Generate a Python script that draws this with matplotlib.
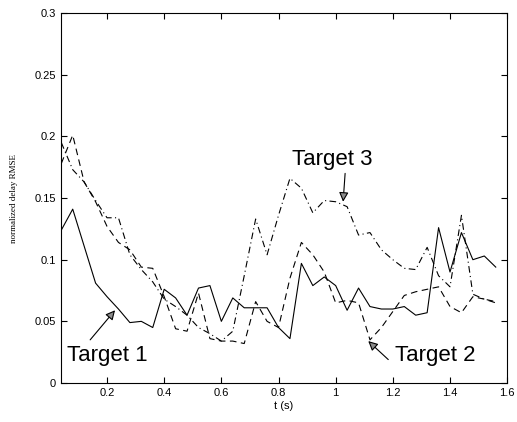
import numpy as np
import matplotlib
matplotlib.use("Agg")
import matplotlib.pyplot as plt

# sample times (s)
t = np.round(np.arange(0.04, 1.561, 0.04), 2)

# Target 1 (solid)
target1 = [0.124, 0.141, 0.111, 0.081, 0.070, 0.060, 0.049, 0.050, 0.045, 0.076,
           0.069, 0.055, 0.077, 0.079, 0.050, 0.069, 0.061, 0.061, 0.061, 0.045,
           0.036, 0.097, 0.079, 0.086, 0.079, 0.059, 0.077, 0.062, 0.060, 0.060,
           0.062, 0.055, 0.057, 0.126, 0.090, 0.122, 0.100, 0.103, 0.094]

# Target 2 (dashed)
target2 = [0.178, 0.201, 0.163, 0.147, 0.127, 0.114, 0.108, 0.094, 0.093, 0.070,
           0.044, 0.042, 0.073, 0.036, 0.034, 0.034, 0.032, 0.066, 0.050, 0.045,
           0.085, 0.114, 0.104, 0.090, 0.065, 0.067, 0.065, 0.035, 0.045, 0.058,
           0.071, 0.074, 0.076, 0.078, 0.062, 0.057, 0.070, 0.068, 0.065]

# Target 3 (dash-dot)
target3 = [0.195, 0.173, 0.163, 0.148, 0.134, 0.134, 0.104, 0.092, 0.082, 0.068,
           0.062, 0.055, 0.045, 0.040, 0.034, 0.042, 0.087, 0.133, 0.104, 0.136,
           0.166, 0.158, 0.138, 0.148, 0.147, 0.143, 0.120, 0.122, 0.108, 0.100,
           0.093, 0.092, 0.110, 0.087, 0.078, 0.136, 0.072, 0.068, 0.066]

fig = plt.figure(figsize=(5.17, 4.22), dpi=100)
ax = fig.add_axes([0.118, 0.0924, 0.863, 0.8766])

ax.plot(t, target1, color='k', lw=0.8, ls='-')
ax.plot(t, target2, color='k', lw=0.8, ls=(0, (6, 4)))
ax.plot(t, target3, color='k', lw=0.8, ls=(0, (6, 3, 1, 3)))

ax.set_xlim(0.039, 1.6)
ax.set_ylim(0, 0.3)
ax.set_xticks([0.2, 0.4, 0.6, 0.8, 1.0, 1.2, 1.4, 1.6])
ax.set_xticklabels(['0.2', '0.4', '0.6', '0.8', '1', '1.2', '1.4', '1.6'])
ax.set_yticks([0, 0.05, 0.1, 0.15, 0.2, 0.25, 0.3])
ax.set_yticklabels(['0', '0.05', '0.1', '0.15', '0.2', '0.25', '0.3'])
ax.tick_params(direction='in', top=True, right=True, length=4, width=0.8,
               labelsize=8)
for lab in ax.get_xticklabels() + ax.get_yticklabels():
    lab.set_family('Liberation Sans')
for s in ax.spines.values():
    s.set_linewidth(0.8)

ax.set_xlabel('t (s)', fontsize=8, family='Liberation Sans', labelpad=2)
ax.set_ylabel('normalized delay RMSE', fontsize=6.5, family='Liberation Serif',
              labelpad=12)

arrow = dict(arrowstyle='-|>', fc='0.55', ec='k', lw=0.8, mutation_scale=14,
             shrinkA=0, shrinkB=0)
txt = dict(fontsize=16, family='Liberation Sans')

ax.text(0.2, 0.031, 'Target 1', ha='center', va='top', **txt)
ax.annotate('', xy=(0.228, 0.059), xytext=(0.141, 0.035), arrowprops=arrow)

ax.text(1.348, 0.031, 'Target 2', ha='center', va='top', **txt)
ax.annotate('', xy=(1.114, 0.034), xytext=(1.184, 0.019), arrowprops=arrow)

ax.text(0.847, 0.181, 'Target 3', ha='left', va='center', **txt)
ax.annotate('', xy=(1.026, 0.147), xytext=(1.033, 0.170), arrowprops=arrow)

fig.savefig('out.png', dpi=100)
plt.close(fig)
